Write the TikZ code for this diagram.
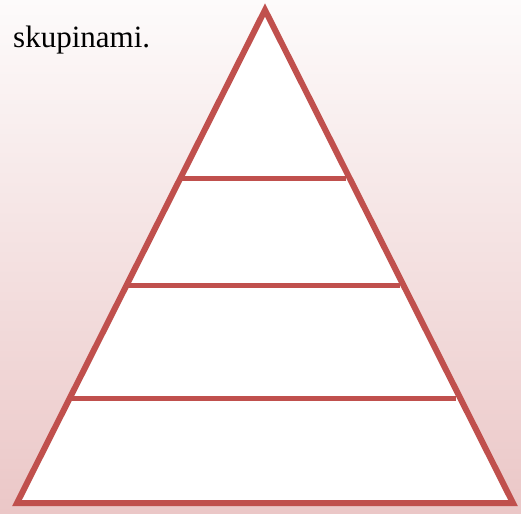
\documentclass[tikz,border=0pt]{standalone}
\usepackage{fontspec}
\setmainfont{Liberation Serif}
\definecolor{PyrRed}{HTML}{C0504D}
\definecolor{BgTop}{HTML}{FDFBFB}
\definecolor{BgBottom}{HTML}{EBC7C7}
\usetikzlibrary{calc}

\begin{document}
\begin{tikzpicture}[x=1pt, y=-1pt]
  % Background panel with soft gradient
  \shade[top color=BgTop, bottom color=BgBottom] (0,0) rectangle (521,513);
  \useasboundingbox (0,0) rectangle (521,513);

  % Caption text
  \node[anchor=base west, inner sep=0pt, font=\fontsize{31}{36}\selectfont] (cap) at (13,48) {skupinami.};

  % Pyramid outline
  \coordinate (apex) at (265,10);
  \coordinate (bl) at (17,503);
  \coordinate (br) at (513,503);
  \draw[PyrRed, line width=6pt, fill=white, line join=miter] (apex) -- (bl) -- (br) -- cycle;

  % Level dividers (right ends stop a little short of the side)
  \foreach \yy in {179, 286, 398} {
    \draw[PyrRed, line width=5pt]
      ($(apex)!{(\yy-10)/493}!(bl)$) -- ($(apex)!{(\yy-10)/493}!(br) + (-4,0)$);
  }
\end{tikzpicture}
\end{document}
